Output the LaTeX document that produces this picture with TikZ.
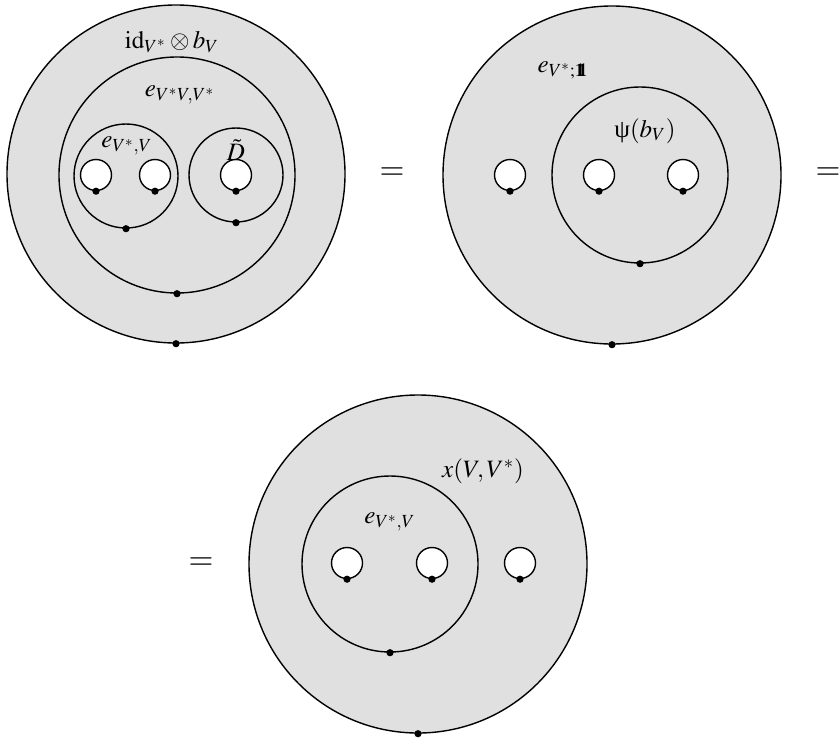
\documentclass[tikz,border=0pt]{standalone}
\usepackage{amsmath,amssymb}
\usepackage{mathptmx}
\usepackage[no-math]{fontspec}
\usepackage{xcolor}
\usepackage{tikz}
\definecolor{shade}{RGB}{224,224,224}
\newfontfamily\grkfont{Liberation Serif}
\newcommand{\bbone}{\mathbf{1}\mkern-6mu\mathbf{1}}
\newcommand{\uppsi}{\text{\grkfont ψ}}

\begin{document}
\begin{tikzpicture}[
		x=0.5pt, y=-0.5pt,
		region/.style={
			circle,
			draw=black,
			fill=shade,
			line width=0.7pt,
			inner sep=0pt
		},
		hole/.style={
			circle,
			draw=black,
			fill=white,
			line width=0.7pt,
			inner sep=0pt,
			minimum size=15.5pt
		},
		pin/.style={
			circle,
			fill=black,
			inner sep=0pt,
			minimum size=3.6pt
		},
		lbl/.style={
			inner sep=0pt,
			font=\fontsize{12.5}{14}\selectfont
		},
		eq/.style={
			inner sep=0pt,
			font=\fontsize{16}{18}\selectfont
		}
		]
		
		\useasboundingbox (0,0) rectangle (839,738);
		
		% first disc
		\node[region, minimum size=169pt] (outerA) at (176,174) {};
		\node[region, minimum size=118pt] (midA) at (177,175) {};
		\node[region, minimum size=52pt] (leftA) at (126,176) {};
		\node[region, minimum size=47pt] (rightA) at (236,175) {};
		\node[hole] (holeA1) at (96,175) {};
		\node[hole] (holeA2) at (155,175) {};
		\node[hole] (holeA3) at (236,175) {};
		
		\node[lbl] (labA1) at (172,42) {$\mathrm{id}_{V^*}\otimes b_{V}$};
		\node[lbl] (labA2) at (180,95) {$e_{V^*V,V^*}$};
		\node[lbl] (labA3) at (127,146) {$e_{V^*,V}$};
		\node[lbl] (labA4) at (236,150) {$\tilde{D}$};
		
		\foreach \n in {outerA,midA,leftA,rightA,holeA1,holeA2,holeA3}
			\node[pin] at (\n.south) {};
		
		\node[eq] (eqA) at (392,174) {$=$};
		
		% second disc
		\node[region, minimum size=169pt] (outerB) at (612,175) {};
		\node[region, minimum size=88pt] (psiB) at (640,175) {};
		\node[hole] (holeB1) at (510,175) {};
		\node[hole] (holeB2) at (599,175) {};
		\node[hole] (holeB3) at (683,175) {};
		
		\node[lbl] (labB1) at (563,70) {$e_{V^*;\bbone}$};
		\node[lbl] (labB2) at (645,131) {$\uppsi(b_{V})$};
		
		\foreach \n in {outerB,psiB,holeB1,holeB2,holeB3}
			\node[pin] at (\n.south) {};
		
		\node[eq] (eqB) at (828,174) {$=$};
		
		% third disc
		\node[eq] (eqC) at (201,564) {$=$};
		
		\node[region, minimum size=169pt] (outerC) at (418,564) {};
		\node[region, minimum size=88pt] (innerC) at (390,564) {};
		\node[hole] (holeC1) at (347,563) {};
		\node[hole] (holeC2) at (432,563) {};
		\node[hole] (holeC3) at (520,563) {};
		
		\node[lbl] (labC1) at (483,471) {$x(V,V^*)$};
		\node[lbl] (labC2) at (390,522) {$e_{V^*,V}$};
		
		\foreach \n in {outerC,innerC,holeC1,holeC2,holeC3}
			\node[pin] at (\n.south) {};
		
	\end{tikzpicture}
\end{document}
